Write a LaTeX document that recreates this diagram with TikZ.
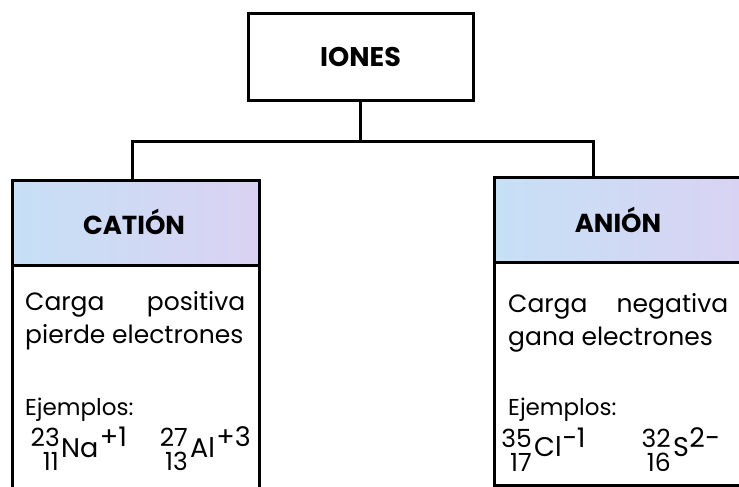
\documentclass[tikz,border=0pt]{standalone}
\usepackage{fontspec}
\setmainfont{Poppins}
\definecolor{hdA}{RGB}{198,224,246}
\definecolor{hdB}{RGB}{218,210,242}
\tikzset{
  frame/.style={draw=black, line width=3pt},
  hdtext/.style={font=\fontsize{26}{30}\selectfont\bfseries, inner sep=0pt},
  bodytext/.style={font=\fontsize{25}{30}\selectfont, inner sep=0pt, anchor=base west},
  ejtxt/.style={font=\fontsize{23}{26}\selectfont, inner sep=0pt, anchor=base west},
  isotxt/.style={font=\fontsize{27}{30}\selectfont, inner sep=0pt},
  numtxt/.style={font=\fontsize{25}{28}\selectfont, inner sep=0pt, anchor=base east},
  link/.style={draw=black, line width=3pt}
}
\begin{document}
\begin{tikzpicture}[x=1pt,y=-1pt]
\useasboundingbox (0,0) rectangle (739,487);
\clip (0,0) rectangle (739,487);
% top box
\node[frame, minimum width=225pt, minimum height=86pt, inner sep=0pt,
      font=\fontsize{27}{30}\selectfont\bfseries] (iones) at (360.5,57) {IONES};
% cation box
\path[left color=hdA, right color=hdB] (12,180) rectangle (259,265);
\node[inner sep=0pt, minimum width=247pt, minimum height=85pt] (cathead) at (135.5,222.5) {};
\node[hdtext] (cattxt) at (134,222) {CATIÓN};
\draw[frame] (12,520) -- (12,180) -- (259,180) -- (259,520);
\draw[frame] (12,265) -- (259,265);
% anion box
\path[left color=hdA, right color=hdB] (494,177) rectangle (760,262);
\node[inner sep=0pt, minimum width=266pt, minimum height=85pt] (anhead) at (627,219.5) {};
\node[hdtext] (antxt) at (618,220) {ANIÓN};
\draw[frame] (494,177) rectangle (760,485);
\draw[frame] (494,262) -- (760,262);
% connectors
\coordinate (cl) at (132,180);
\coordinate (cr) at (593,177);
\coordinate (bus) at (360.5,141);
\draw[link] (iones.south) -- (bus);
\draw[link, line join=miter] (cl) |- (bus) -| (cr);
% cation body text
\node[bodytext, text width=220pt, align=justify] (catl1) at (25,310) {Carga\hfill positiva};
\node[bodytext] (catl2) at (25,343) {pierde electrones};
\node[ejtxt] (catej) at (25,415) {Ejemplos:};
\node[isotxt, anchor=base west] (na3) at (61,457) {Na};
\node[numtxt] (na1) at ([xshift=-1pt]na3.west |- 0,446) {23};
\node[numtxt] (na2) at ([xshift=-2pt]na3.west |- 0,470) {11};
\node[isotxt, anchor=base west] (na4) at ([xshift=1pt]na3.east |- 0,446) {+1};
\node[isotxt, anchor=base west] (al3) at (190,457) {Al};
\node[numtxt] (al1) at ([xshift=-2pt]al3.west |- 0,446) {27};
\node[numtxt] (al2) at ([xshift=-2pt]al3.west |- 0,470) {13};
\node[isotxt, anchor=base west] (al4) at ([xshift=1pt]al3.east |- 0,446) {+3};
% anion body text
\node[bodytext, text width=220pt, align=justify] (anl1) at (508,312) {Carga\hfill negativa};
\node[bodytext] (anl2) at (508,345) {gana electrones};
\node[ejtxt] (anej) at (508,415) {Ejemplos:};
\node[isotxt, anchor=base west] (cl3) at (534,456) {Cl};
\node[numtxt] (cl1) at ([xshift=-2pt]cl3.west |- 0,447) {35};
\node[numtxt] (cl2) at ([xshift=-2pt]cl3.west |- 0,471) {17};
\node[isotxt, anchor=base west] (cl4) at ([xshift=0pt]cl3.east |- 0,447) {−1};
\node[isotxt, anchor=base west] (s3) at (673,456) {S};
\node[numtxt] (s1) at ([xshift=-2pt]s3.west |- 0,447) {32};
\node[numtxt] (s2) at ([xshift=-2pt]s3.west |- 0,471) {16};
\node[isotxt, anchor=base west] (s4) at ([xshift=0pt]s3.east |- 0,447) {2−};
\end{tikzpicture}
\end{document}
